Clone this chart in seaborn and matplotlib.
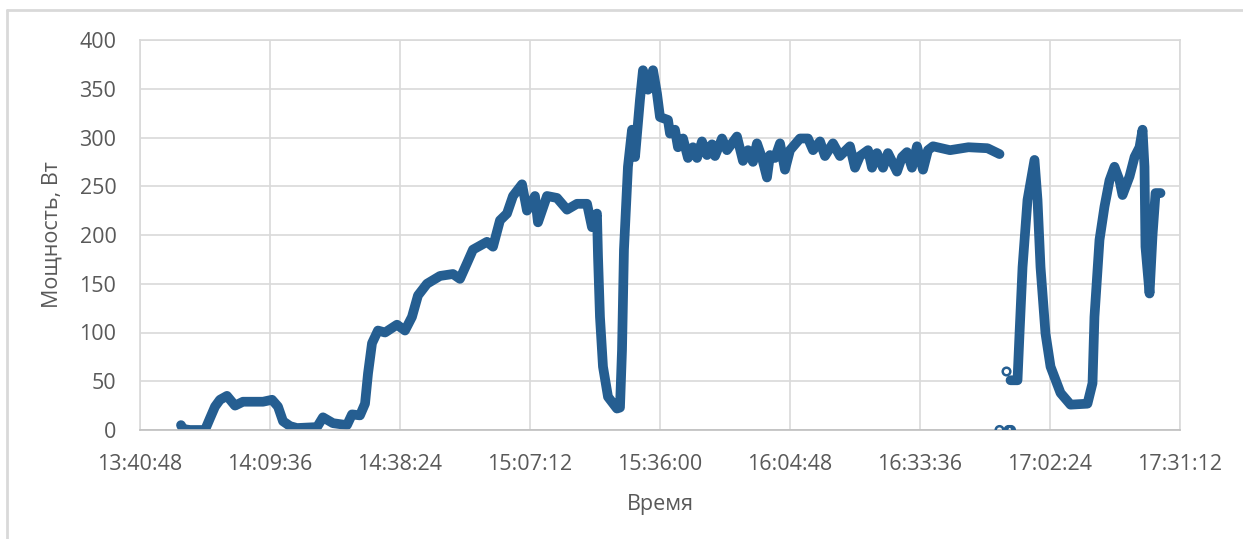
import matplotlib
matplotlib.use("Agg")
import matplotlib.pyplot as plt
from matplotlib.ticker import FuncFormatter, MultipleLocator
from matplotlib.lines import Line2D
import seaborn as sns
import pandas as pd

# время (чч:мм:сс) и мощность, Вт
times_1 = [
    "13:49:53", "13:50:20", "13:51:53", "13:55:12", "13:56:18", "13:57:25",
    "13:58:31", "14:00:04", "14:01:51", "14:03:37", "14:08:03", "14:10:03",
    "14:11:22", "14:12:29", "14:14:02", "14:15:35", "14:20:01", "14:21:20",
    "14:23:33", "14:26:39", "14:27:46", "14:29:32", "14:30:39", "14:31:19",
    "14:32:12", "14:33:31", "14:35:05", "14:37:44", "14:39:30", "14:41:03",
    "14:42:23", "14:44:23", "14:47:16", "14:50:08", "14:51:41", "14:53:14",
    "14:54:34", "14:57:40", "14:59:00", "15:00:33", "15:02:06", "15:03:26",
    "15:05:26", "15:06:32", "15:08:18", "15:08:58", "15:10:58", "15:13:11",
    "15:15:24", "15:17:37", "15:19:50", "15:20:56", "15:22:02", "15:22:16",
    "15:22:42", "15:23:22", "15:24:29", "15:26:28", "15:27:08", "15:27:35",
    "15:28:01", "15:28:54", "15:29:48", "15:30:28", "15:31:34", "15:32:14",
    "15:33:20", "15:34:27", "15:35:20", "15:36:00", "15:37:46", "15:38:13",
    "15:39:19", "15:39:59", "15:41:06", "15:42:12", "15:43:18", "15:44:12",
    "15:45:18", "15:46:25", "15:47:31", "15:48:11", "15:49:44", "15:50:50",
    "15:53:03", "15:54:23", "15:55:30", "15:56:36", "15:57:29", "15:58:36",
    "15:59:42", "16:00:22", "16:01:28", "16:02:35", "16:03:41", "16:04:48",
    "16:07:01", "16:08:47", "16:09:54", "16:11:27", "16:12:33", "16:14:19",
    "16:15:52", "16:18:05", "16:19:12", "16:20:18", "16:22:05", "16:22:58",
    "16:24:04", "16:25:24", "16:26:30", "16:28:30", "16:29:37", "16:30:43",
    "16:31:49", "16:32:56", "16:34:16", "16:35:22", "16:36:29", "16:40:15",
    "16:44:20", "16:48:33", "16:51:13",
]
power_1 = [
    5, 1, 0, 0, 12, 24,
    31, 35, 25, 29, 29, 31,
    24, 9, 4, 2, 3, 13,
    7, 5, 16, 15, 27, 58,
    89, 102, 100, 108, 102, 116,
    138, 150, 158, 160, 155, 171,
    185, 193, 188, 215, 222, 240,
    252, 225, 240, 213, 240, 238,
    226, 232, 232, 208, 222, 178,
    116, 65, 34, 22, 23, 82,
    185, 270, 308, 280, 339, 369,
    349, 369, 345, 321, 318, 304,
    308, 290, 299, 279, 290, 279,
    296, 282, 293, 281, 299, 287,
    301, 276, 287, 275, 294, 279,
    259, 282, 279, 294, 267, 287,
    299, 299, 287, 296, 281, 294,
    281, 291, 269, 281, 287, 269,
    284, 269, 284, 265, 280, 285,
    269, 291, 267, 287, 291, 287,
    290, 289, 283,
]

times_2 = [
    "16:53:39", "16:55:12", "16:55:39", "16:56:19", "16:57:25", "16:58:58",
    "16:59:38", "17:00:18", "17:01:24", "17:02:31", "17:04:44", "17:06:57",
    "17:10:42", "17:11:49", "17:12:15", "17:13:22", "17:14:28", "17:15:35",
    "17:16:41", "17:17:48", "17:18:28", "17:20:01", "17:21:08", "17:22:14",
    "17:22:54", "17:23:20", "17:23:33", "17:24:27", "17:25:07", "17:25:47",
    "17:26:53",
]
power_2 = [
    51, 51, 99, 167, 236, 277,
    236, 167, 99, 65, 38, 26,
    27, 48, 116, 195, 229, 256,
    270, 256, 241, 260, 280, 290,
    308, 270, 188, 140, 200, 243,
    243,
]

# отдельные выбросы
outlier_times = ["16:51:13", "16:53:13", "16:53:30", "16:53:45", "16:52:46"]
outlier_power = [0, 0, 0, 0, 60]

x_ticks = ["13:40:48", "14:09:36", "14:38:24", "15:07:12", "15:36:00",
           "16:04:48", "16:33:36", "17:02:24", "17:31:12"]
y_ticks = [0, 50, 100, 150, 200, 250, 300, 350, 400]

BLUE = "#255e91"
GRID = "#d9d9d9"
TEXT = "#595959"


def to_sec(t):
    h, m, s = (int(p) for p in t.split(":"))
    return h * 3600 + m * 60 + s


def fmt_sec(v, pos=None):
    v = int(round(v))
    return f"{v // 3600}:{(v % 3600) // 60:02d}:{v % 60:02d}"


df = pd.concat([
    pd.DataFrame({"time": times_1, "power": power_1, "segment": 1}),
    pd.DataFrame({"time": times_2, "power": power_2, "segment": 2}),
])
df["sec"] = df["time"].map(to_sec)
out = pd.DataFrame({"sec": [to_sec(t) for t in outlier_times],
                    "power": outlier_power})

sns.set_theme(style="whitegrid")
plt.rcParams["font.family"] = ["Open Sans", "DejaVu Sans"]

fig = plt.figure(figsize=(12.43, 5.39), dpi=100)
ax = fig.add_axes([140 / 1243, 1 - 430 / 539, 1040 / 1243, 390 / 539])

sns.lineplot(data=df, x="sec", y="power", units="segment", estimator=None,
             sort=False, color=BLUE, lw=7, ax=ax,
             solid_capstyle="round", solid_joinstyle="round")
sns.scatterplot(data=out, x="sec", y="power", ax=ax, s=30,
                facecolor="none", edgecolor=BLUE, linewidth=1.8, zorder=4)

tick_sec = [to_sec(t) for t in x_ticks]
ax.set_xlim(tick_sec[0], tick_sec[-1])
ax.set_ylim(y_ticks[0], y_ticks[-1])
ax.set_xticks(tick_sec)
ax.xaxis.set_major_formatter(FuncFormatter(fmt_sec))
ax.yaxis.set_major_locator(MultipleLocator(50))

ax.grid(True, color=GRID, lw=1.2)
for s in ax.spines.values():
    s.set_visible(True)
    s.set_color(GRID)
    s.set_linewidth(1.2)
ax.spines["bottom"].set_color("#bfbfbf")
ax.tick_params(axis="both", length=0, labelsize=15.5, colors=TEXT)
ax.tick_params(axis="x", pad=17)
ax.tick_params(axis="y", pad=17)

ax.set_xlabel("Время", fontsize=15.5, color=TEXT, labelpad=14)
ax.set_ylabel("Мощность, Вт", fontsize=15.5, color=TEXT, labelpad=12)

# рамка области диаграммы
fig.add_artist(Line2D([7 / 1243, 7 / 1243], [0, 1 - 10 / 539],
                      transform=fig.transFigure, color=GRID, lw=2))
fig.add_artist(Line2D([7 / 1243, 1], [1 - 10 / 539, 1 - 10 / 539],
                      transform=fig.transFigure, color=GRID, lw=2))

fig.savefig("out.png", dpi=100, facecolor="white")
